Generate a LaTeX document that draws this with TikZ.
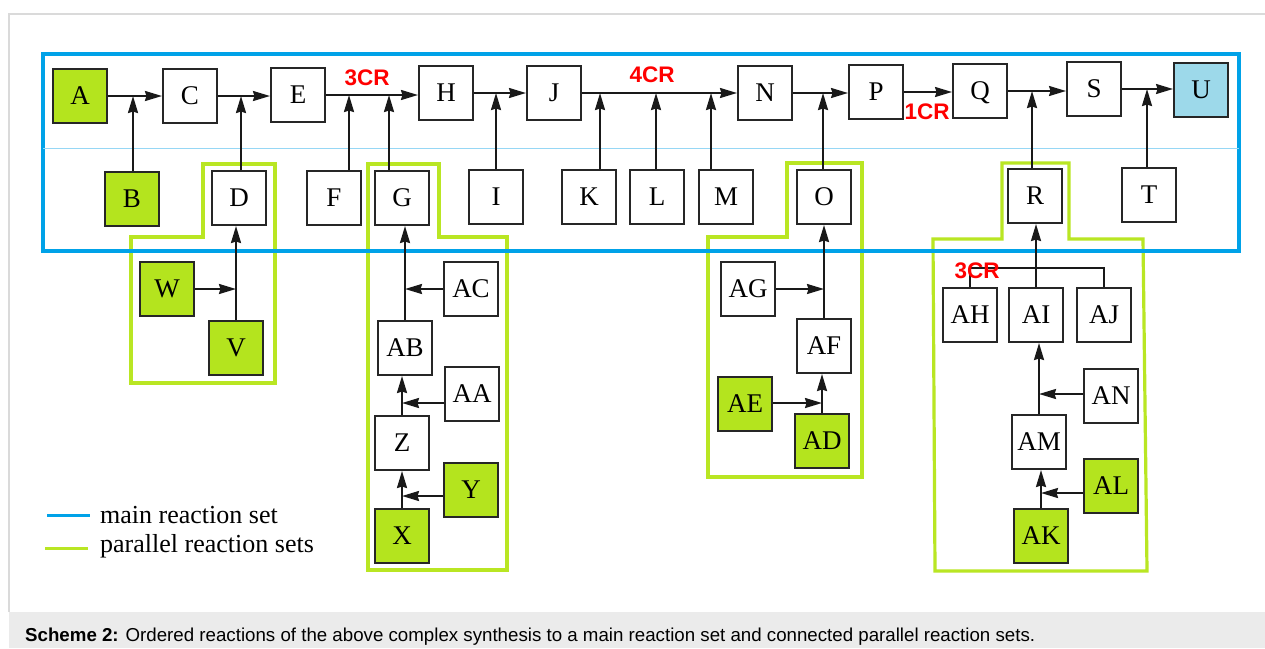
\documentclass[tikz,border=0pt]{standalone}
\usepackage{fontspec}
\setmainfont{Liberation Serif}
\newfontfamily\capfont{Liberation Sans}
\usetikzlibrary{arrows.meta}

\definecolor{mainblue}{RGB}{0,162,232}
\definecolor{thinblue}{RGB}{150,215,245}
\definecolor{paragreen}{RGB}{185,230,35}
\definecolor{startgreen}{RGB}{180,228,30}
\definecolor{endblue}{RGB}{157,217,234}
\definecolor{capgray}{RGB}{235,235,235}
\definecolor{edgegray}{RGB}{218,218,218}

\begin{document}
\begin{tikzpicture}[x=1pt,y=-1pt,>={Stealth[length=17pt,width=10pt,inset=1.5pt]}]
				\tikzstyle{box}=[rectangle, draw=black!85, line width=2pt, fill=white, minimum width=54pt, minimum height=54pt, inner sep=0pt, text height=17.5pt, text depth=0pt, font=\fontsize{27}{27}\selectfont]
				\tikzstyle{b1}=[fill=startgreen]
				\tikzstyle{b2}=[fill=endblue]
				\tikzstyle{cr}=[text=red, inner sep=0pt, font=\capfont\bfseries\fontsize{22.5}{22.5}\selectfont]
				\tikzstyle{pset}=[draw=paragreen, line width=3.2pt]
				\tikzstyle{mset}=[draw=mainblue, line width=3.8pt]
				\tikzstyle{link}=[draw=black!90, line width=2pt]
				\tikzstyle{leg}=[anchor=base west, inner sep=0pt, font=\fontsize{26}{26}\selectfont]

				\useasboundingbox (0,0) rectangle (1265,648);
				\fill[white] (0,0) rectangle (1265,648);
				\draw[edgegray, line width=1.2pt] (9,612) -- (9,14) -- (1265,14);
				\fill[capgray] (9,612) rectangle (1265,648);

				% parallel reaction sets
				\draw[pset] (203,164) -- (275,164) -- (275,383) -- (131,383) -- (131,237) -- (203,237) -- cycle;
				\draw[pset] (368,164) -- (439,164) -- (439,237) -- (507,237) -- (507,570) -- (368,570) -- cycle;
				\draw[pset] (787,163) -- (862,163) -- (862,477) -- (708,477) -- (708,237) -- (787,237) -- cycle;
				\draw[pset] (1002,163) -- (1069,163) -- (1069,239) -- (1143,239) -- (1147,571) -- (935,571) -- (933,239) -- (1002,239) -- cycle;

				% main reaction set
				\draw[mset] (43,54) rectangle (1239,251);
				\draw[thinblue, line width=0.8pt] (43,148) -- (1239,148);

				% main chain
				\node[box,b1] (A) at (80,96) {A};
				\node[box] (C) at (190,96) {C};
				\node[box] (E) at (298,95) {E};
				\node[box] (H) at (446,93) {H};
				\node[box] (J) at (554,93) {J};
				\node[box] (N) at (765,93) {N};
				\node[box] (P) at (876,92) {P};
				\node[box] (Q) at (980,91) {Q};
				\node[box] (S) at (1094,89) {S};
				\node[box,b2] (U) at (1201,90) {U};

				\node[box,b1] (B) at (132,199) {B};
				\node[box] (D) at (239,198) {D};
				\node[box] (F) at (334,198) {F};
				\node[box] (G) at (402,198) {G};
				\node[box] (I) at (496,197) {I};
				\node[box] (K) at (589,197) {K};
				\node[box] (L) at (657,197) {L};
				\node[box] (M) at (726,197) {M};
				\node[box] (O) at (824,197) {O};
				\node[box] (R) at (1035,196) {R};
				\node[box] (T) at (1149,195) {T};

				% side branches
				\node[box,b1] (W) at (167,289) {W};
				\node[box,b1] (V) at (236,348) {V};
				\node[box] (AC) at (471,289) {AC};
				\node[box] (AB) at (405,348) {AB};
				\node[box] (AA) at (472,394) {AA};
				\node[box] (Z) at (402,443) {Z};
				\node[box,b1] (Y) at (471,490) {Y};
				\node[box,b1] (X) at (402,536) {X};
				\node[box] (AG) at (748,289) {AG};
				\node[box] (AF) at (824,346) {AF};
				\node[box,b1] (AE) at (745,404) {AE};
				\node[box,b1] (AD) at (822,441) {AD};
				\node[box] (AH) at (970,315) {AH};
				\node[box] (AI) at (1036,315) {AI};
				\node[box] (AJ) at (1104,315) {AJ};
				\node[box] (AN) at (1111,396) {AN};
				\node[box] (AM) at (1039,442) {AM};
				\node[box,b1] (AL) at (1111,486) {AL};
				\node[box,b1] (AK) at (1041,536) {AK};

				\foreach \from/\to in {A/C,C/E,E/H,H/J,J/N,N/P,P/Q,Q/S,S/U}
				\draw[link,->] (\from.east) -- (\from.east -| \to.west);

				\foreach \n/\x/\y in {B/133/96,D/241/96,F/349/95,G/389/95,I/496/93,K/600/93,L/656/93,M/711/93,O/823/93,R/1032/91,T/1147/89}
				{\coordinate (j\n) at (\x,\y);
				\draw[link,->] (\n.north -| j\n) -- (j\n);}

				\foreach \from/\to in {V/D,AB/G,Z/AB,X/Z,AF/O,AD/AF,AI/R,AM/AI,AK/AM}
				\draw[link,->] (\from) -- (\from |- \to.south);

				\foreach \n/\x/\y in {W/236/289,AG/824/289,AE/822/403}
				{\coordinate (j\n) at (\x,\y);
				\draw[link,->] (\n.east |- j\n) -- (j\n);}

				\foreach \n/\x/\y in {AC/405/289,AA/402/403,Y/402/496,AN/1039/394,AL/1041/493}
				{\coordinate (j\n) at (\x,\y);
				\draw[link,->] (\n.west |- j\n) -- (j\n);}

				\coordinate (jCR) at (1036,268);
				\draw[link] (AH.north) |- (jCR) -| (AJ.north);

				\node[cr] (cr3a) at (367,78) {3CR};
				\node[cr] (cr4) at (652,75) {4CR};
				\node[cr] (cr1) at (927,112) {1CR};
				\node[cr] (cr3b) at (977,271) {3CR};

				% legend
				\draw[mainblue, line width=3pt] (47,515) -- (90,515);
				\draw[paragreen, line width=3pt] (45,548) -- (88,548);
				\node[leg] (lmain) at (100,523) {main reaction set};
				\node[leg] (lpar) at (100,552) {parallel reaction sets};

				\node[anchor=base west, inner sep=0pt, font=\capfont\fontsize{18.7}{18.7}\selectfont] (cap) at (25,641) {\textbf{Scheme 2:} Ordered reactions of the above complex synthesis to a main reaction set and connected parallel reaction sets.};
			\end{tikzpicture}
\end{document}
